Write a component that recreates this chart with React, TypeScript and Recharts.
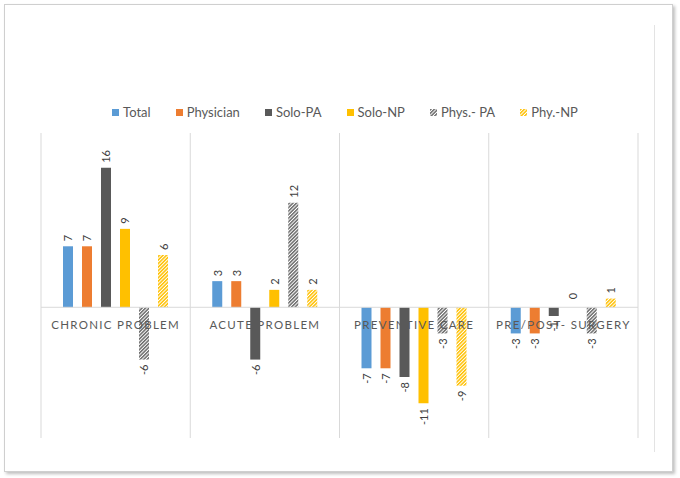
import React from 'react';
import { BarChart, Bar, XAxis, YAxis, CartesianGrid, ReferenceLine } from 'recharts';

const categories = ['CHRONIC PROBLEM', 'ACUTE PROBLEM', 'PREVENTIVE CARE', 'PRE/POST- SURGERY'];
const seriesNames = ['Total', 'Physician', 'Solo-PA', 'Solo-NP', 'Phys.- PA', 'Phy.-NP'];
const total = [7, 3, -7, -3];
const physician = [7, 3, -7, -3];
const soloPA = [16, -6, -8, -1];
const soloNP = [9, 2, -11, 0];
const physPA = [-6, 12, -3, -3];
const phyNP = [6, 2, -9, 1];
const yDomain = [-15, 20];

const seriesKeys = ['total', 'physician', 'soloPA', 'soloNP', 'physPA', 'phyNP'];
const fills = ['#5B9BD5', '#ED7D31', '#595959', '#FFC000', 'url(#hatchGray)', 'url(#hatchYellow)'];

const data = categories.map((c, i) => ({
  name: c,
  total: total[i],
  physician: physician[i],
  soloPA: soloPA[i],
  soloNP: soloNP[i],
  physPA: physPA[i],
  phyNP: phyNP[i],
}));

const W = 680;
const H = 478;
const margin = { top: 133, right: 42, bottom: 10, left: 41 };
const plotH = H - margin.top - margin.bottom - 30;
const plotW = W - margin.left - margin.right;
const font = 'Lato, "Open Sans", sans-serif';

// rotated value labels, above positive bars and below negative ones
const ValueLabel = (props: any) => {
  const { x, y, width, height, value } = props;
  if (value === undefined || value === null) return null;
  const h = height || 0;
  const top = Math.min(y, y + h);
  const bottom = Math.max(y, y + h);
  const cx = x + width / 2;
  const pos = value >= 0;
  const ty = pos ? top - (value === 0 ? 8 : 5) : bottom + 5;
  return (
    <text
      x={cx}
      y={ty}
      transform={`rotate(-90, ${cx}, ${ty})`}
      textAnchor={pos ? 'start' : 'end'}
      dominantBaseline="central"
      fontSize={11}
      fontFamily={font}
      fill="#404040"
    >
      {value}
    </text>
  );
};

// category labels sit just under the zero line
const CategoryTick = (props: any) => {
  const { x, y, payload } = props;
  const zeroY = y - (plotH * (0 - yDomain[0])) / (yDomain[1] - yDomain[0]);
  return (
    <text
      x={x}
      y={zeroY + 22}
      textAnchor="middle"
      fontSize={11.5}
      fontFamily={font}
      letterSpacing={1.3}
      fill="#595959"
    >
      {payload.value}
    </text>
  );
};

// a zero bar gets a hair-thin height so its "0" label is still drawn
const zeroPoint = (v: any) => (v === 0 ? 0.01 : 0);

export default function App() {
  return (
    <div style={{ position: 'absolute', left: 0, top: 0, width: W, height: H, background: '#fff' }}>
      <svg width={0} height={0} style={{ position: 'absolute' }}>
        <defs>
          <pattern id="hatchGray" width="2.5" height="2.5" patternUnits="userSpaceOnUse" patternTransform="rotate(45)">
            <rect width="2.5" height="2.5" fill="#fff" />
            <rect width="1.5" height="2.5" fill="#6a6a6a" />
          </pattern>
          <pattern id="hatchYellow" width="2.5" height="2.5" patternUnits="userSpaceOnUse" patternTransform="rotate(45)">
            <rect width="2.5" height="2.5" fill="#fff" />
            <rect width="1.5" height="2.5" fill="#FFC000" />
          </pattern>
        </defs>
      </svg>
      {/* outer card frame */}
      <div
        style={{
          position: 'absolute',
          left: 4,
          top: 4,
          width: 667,
          height: 466,
          border: '1px solid #cfcfcf',
          boxShadow: '2px 2px 3px rgba(0,0,0,0.25)',
        }}
      />
      <div style={{ position: 'absolute', left: 654, top: 25, width: 0, height: 427, borderLeft: '1px solid #e3e3e3' }} />
      {/* legend */}
      <div
        style={{
          position: 'absolute',
          left: 0,
          top: 104,
          width: W,
          display: 'flex',
          justifyContent: 'center',
          gap: 25,
          paddingLeft: 10,
          boxSizing: 'border-box',
          fontFamily: font,
          fontSize: 13,
          color: '#595959',
        }}
      >
        {seriesNames.map((n, i) => (
          <div key={n} style={{ display: 'flex', alignItems: 'center', gap: 4 }}>
            <svg width={7} height={7}>
              <rect width={7} height={7} fill={fills[i]} />
            </svg>
            <span>{n}</span>
          </div>
        ))}
      </div>
      <div style={{ position: 'absolute', left: 0, top: 0 }}>
        <BarChart width={W} height={H} data={data} margin={margin} barGap={9} barCategoryGap={22}>
          <CartesianGrid
            horizontal={false}
            stroke="#d9d9d9"
            verticalCoordinatesGenerator={() =>
              categories.map((_, i) => margin.left + (i * plotW) / categories.length).concat([margin.left + plotW])
            }
          />
          <XAxis
            dataKey="name"
            axisLine={false}
            tickLine={false}
            tickSize={0}
            tickMargin={0}
            height={30}
            tick={<CategoryTick />}
            interval={0}
          />
          <YAxis hide domain={yDomain} />
          <ReferenceLine y={0} stroke="#d9d9d9" />
          {seriesKeys.map((k, i) => (
            <Bar
              key={k}
              dataKey={k}
              name={seriesNames[i]}
              fill={fills[i]}
              barSize={10}
              minPointSize={zeroPoint}
              isAnimationActive={false}
              label={<ValueLabel />}
            />
          ))}
        </BarChart>
      </div>
    </div>
  );
}
